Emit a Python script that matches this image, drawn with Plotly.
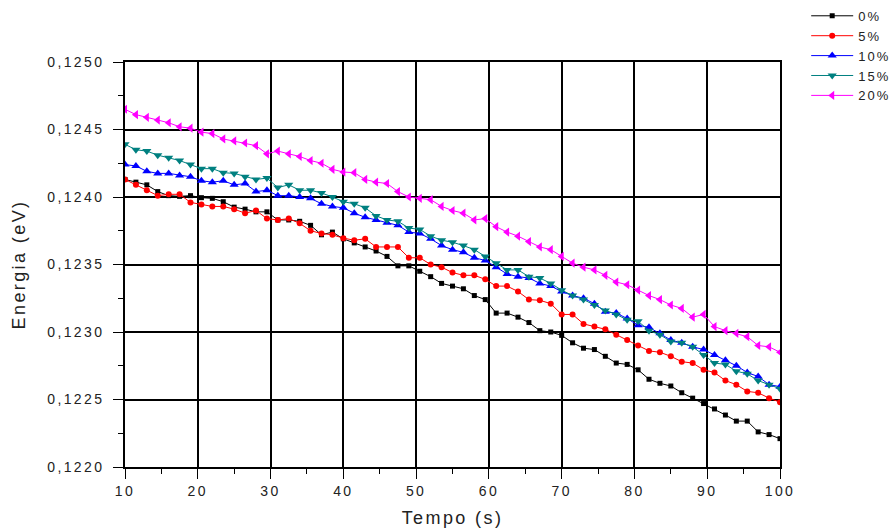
import plotly.graph_objects as go

tempo = [10, 11.5, 13, 14.5, 16, 17.5, 19, 20.5, 22, 23.5, 25, 26.5, 28, 29.5, 31, 32.5,
         34, 35.5, 37, 38.5, 40, 41.5, 43, 44.5, 46, 47.5, 49, 50.5, 52, 53.5, 55, 56.5,
         58, 59.5, 61, 62.5, 64, 65.5, 67, 68.5, 70, 71.5, 73, 74.5, 76, 77.5, 79, 80.5,
         82, 83.5, 85, 86.5, 88, 89.5, 91, 92.5, 94, 95.5, 97, 98.5, 100]

e0 = [0.12413, 0.12411, 0.12409, 0.12404, 0.12401, 0.124005, 0.12401, 0.123995, 0.12399, 0.123965,
      0.123925, 0.12391, 0.12389, 0.12389, 0.12383, 0.12383, 0.12382, 0.12379, 0.12372, 0.12374,
      0.12369, 0.12366, 0.12363, 0.12360, 0.12356, 0.12349, 0.12349, 0.12345, 0.12341, 0.12336,
      0.12334, 0.12332, 0.12327, 0.12324, 0.12314, 0.12314, 0.12311, 0.12307, 0.12301, 0.12300,
      0.122975, 0.12292, 0.12288, 0.12287, 0.12282, 0.12277, 0.12276, 0.12272, 0.12265, 0.12262,
      0.12260, 0.12255, 0.12251, 0.12247, 0.12243, 0.122385, 0.12234, 0.12234, 0.12226, 0.12224, 0.12221]

e5 = [0.12413, 0.12409, 0.12405, 0.12401, 0.12402, 0.12402, 0.12396, 0.123945, 0.12393, 0.12393,
      0.12391, 0.12388, 0.12390, 0.12384, 0.12383, 0.12384, 0.123805, 0.12375, 0.12373, 0.12372,
      0.123695, 0.12368, 0.12369, 0.12363, 0.12363, 0.12363, 0.12355, 0.12355, 0.12350, 0.12348,
      0.12344, 0.12342, 0.12342, 0.12339, 0.12334, 0.12334, 0.12330, 0.12324, 0.123235, 0.12321,
      0.12313, 0.12313, 0.12306, 0.12304, 0.12302, 0.12298, 0.12294, 0.12290, 0.12286, 0.12285,
      0.12282, 0.12278, 0.12277, 0.12272, 0.12270, 0.12264, 0.12261, 0.12256, 0.12255, 0.12251, 0.12248]

e10 = [0.12424, 0.12423, 0.12419, 0.124175, 0.124175, 0.12416, 0.12415, 0.12412, 0.12411, 0.12412,
       0.12409, 0.12410, 0.12404, 0.12405, 0.12401, 0.12401, 0.12400, 0.12399, 0.12395, 0.12393,
       0.12392, 0.12388, 0.12385, 0.12383, 0.12381, 0.12379, 0.12374, 0.12373, 0.12369, 0.12364,
       0.12361, 0.12359, 0.12355, 0.12353, 0.12348, 0.12343, 0.12341, 0.12340, 0.12336, 0.12334,
       0.12330, 0.12327, 0.12325, 0.12321, 0.12315, 0.12314, 0.12310, 0.12305, 0.123035, 0.12299,
       0.12294, 0.12292, 0.12289, 0.12287, 0.12283, 0.12279, 0.12275, 0.12270, 0.12267, 0.12261, 0.122595]

e15 = [0.12439, 0.12435, 0.12434, 0.12431, 0.12429, 0.12427, 0.12424, 0.12421, 0.12421, 0.12418,
       0.124175, 0.12415, 0.12413, 0.12414, 0.12407, 0.12409, 0.12405, 0.12405, 0.12403, 0.12400,
       0.123965, 0.12395, 0.12392, 0.12386, 0.12383, 0.12382, 0.12377, 0.12376, 0.12371, 0.12368,
       0.123665, 0.12364, 0.12361, 0.12356, 0.12351, 0.12346, 0.12346, 0.12341, 0.12340, 0.12336,
       0.12331, 0.12327, 0.12324, 0.12320, 0.12316, 0.12313, 0.12309, 0.12308, 0.12301, 0.12298,
       0.12293, 0.12292, 0.12289, 0.12283, 0.12277, 0.12276, 0.12271, 0.12269, 0.12264, 0.12261, 0.12258]

e20 = [0.12465, 0.12461, 0.12459, 0.12457, 0.12455, 0.12452, 0.12451, 0.12448, 0.12447, 0.12443,
       0.124415, 0.12440, 0.12438, 0.12432, 0.12434, 0.12432, 0.12430, 0.12427, 0.12425, 0.124205,
       0.124185, 0.12418, 0.12413, 0.12411, 0.12410, 0.12404, 0.12400, 0.12399, 0.12398, 0.12393,
       0.12390, 0.12388, 0.12383, 0.12384, 0.12378, 0.12374, 0.12371, 0.12367, 0.12363, 0.12361,
       0.12356, 0.12351, 0.12348, 0.12346, 0.12342, 0.12337, 0.12335, 0.12331, 0.12327, 0.12324,
       0.12320, 0.123175, 0.12311, 0.12313, 0.12304, 0.12301, 0.12299, 0.122965, 0.12290, 0.12289, 0.12285]

names = ["0%", "5%", "10%", "15%", "20%"]
colors = ["#000000", "#ff0000", "#0000ff", "#008080", "#ff00ff"]
symbols = ["square", "circle", "triangle-up", "triangle-down", "triangle-left"]
sizes = [5, 6, 8, 8, 8]
series = [e0, e5, e10, e15, e20]

fig = go.Figure()
for nm, col, sym, sz, ys in zip(names, colors, symbols, sizes, series):
    fig.add_trace(go.Scatter(
        x=tempo, y=ys, name=nm, mode="lines+markers",
        line=dict(color=col, width=1),
        marker=dict(symbol=sym, size=sz, color=col, line=dict(width=0)),
    ))

axis_common = dict(
    showline=True, linecolor="black", linewidth=1.5, mirror=True,
    showgrid=True, gridcolor="black", gridwidth=1.5,
    ticks="outside", ticklen=10, tickcolor="black", tickwidth=1,
    tickfont=dict(family="Arial", size=14, color="#222222"),
    zeroline=False,
)

fig.update_xaxes(
    range=[10, 100], dtick=10, tick0=10,
    title=dict(text="Tempo (s)", font=dict(family="Arial", size=18, color="#222222"), standoff=14),
    minor=dict(dtick=5, ticks="outside", ticklen=5, tickcolor="black", showgrid=False),
    ticklabelstandoff=0,
    **axis_common,
)
fig.update_yaxes(
    range=[0.1220, 0.1250], dtick=0.0005, tick0=0.1220, tickformat=".4f",
    title=dict(text="Energia (eV)", font=dict(family="Arial", size=18, color="#222222"), standoff=31),
    minor=dict(dtick=0.00025, ticks="outside", ticklen=5, tickcolor="black", showgrid=False),
    ticklabelstandoff=6,
    **axis_common,
)

fig.update_layout(
    width=895, height=528,
    margin=dict(l=125, r=115, t=62, b=61, autoexpand=False),
    paper_bgcolor="white", plot_bgcolor="white",
    separators=", ",
    font=dict(family="Arial", color="#222222"),
    legend=dict(
        x=1.04, y=1.151, xanchor="left", yanchor="top",
        font=dict(family="Arial", size=13, color="#222222"),
        bgcolor="rgba(0,0,0,0)", itemwidth=42, tracegroupgap=0,
    ),
    showlegend=True,
)

js = """
document.body.style.margin = '0';
var gd = document.getElementById('{plot_id}');
gd.querySelectorAll('text').forEach(function(t){
    var inLegend = t.closest && t.closest('.legend');
    t.style.letterSpacing = inLegend ? '2px' : '2.4px';
});
"""
fig.write_html("out.html", post_script=js, config={"displayModeBar": False})
